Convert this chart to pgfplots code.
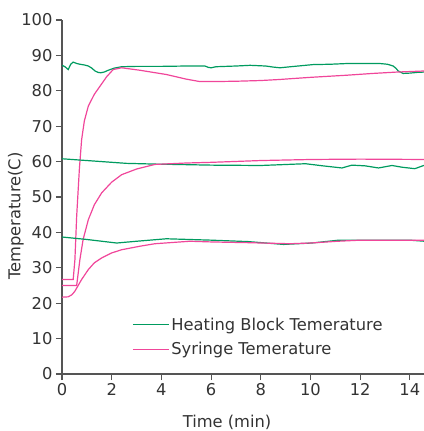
\documentclass[border=0pt]{standalone}
\usepackage{pgfplots}
\pgfplotsset{compat=1.18}
\usepackage{fontspec}
\setmainfont{DejaVu Sans}
\definecolor{gblock}{RGB}{0,155,95}
\definecolor{psyr}{RGB}{240,70,154}
\definecolor{axgray}{RGB}{85,85,85}
\definecolor{txt}{RGB}{51,51,51}
\newcommand\f{\fontsize{16.3bp}{19bp}\selectfont}
\begin{document}
\begin{tikzpicture}
\begin{axis}[
  scale only axis, width=362bp, height=354bp,
  xmin=0, xmax=14.57, ymin=0, ymax=100,
  axis x line=bottom, axis y line=left,
  axis line style={-, axgray, line width=1.4bp},
  tick align=outside, major tick length=6bp,
  tick style={axgray, line width=1.1bp},
  xtick={0,2,...,14}, ytick={0,10,...,100},
  /pgf/number format/assume math mode=true,
  tick label style={font=\f, text=txt},
  xlabel={Time (min)}, ylabel={Temperature(C)},
  label style={font=\f, text=txt},
  xlabel style={at={(axis description cs:0.456,0)}, anchor=center, yshift=-48bp},
  ylabel style={at={(axis description cs:0,0.446)}, anchor=center, yshift=46bp},
  legend style={draw=none, fill=none, font=\f, text=txt,
    at={(axis description cs:0.185,0.038)}, anchor=south west,
    row sep=7bp},
  legend cell align=left,
  legend image code/.code={\draw[#1] (0bp,0bp) -- (36bp,0bp);},
  every axis plot/.append style={line width=1.2bp},
  clip=true,
]
\addplot[gblock] coordinates {(0,87.2)(0.12,86.8)(0.25,86.0)(0.35,87.5)(0.45,88.1)(0.6,87.7)(0.72,87.5)(0.9,87.3)(1.06,87.0)(1.2,86.4)(1.33,85.6)(1.45,85.2)(1.56,85.1)(1.7,85.3)(1.86,85.8)(2.1,86.4)(2.4,86.8)(3,86.9)(4,86.9)(5,87.0)(5.75,87.0)(5.9,86.6)(6.0,86.5)(6.2,86.8)(7,87.0)(7.57,87.2)(8.2,87.0)(8.5,86.7)(8.77,86.5)(9.2,86.8)(10.1,87.4)(10.8,87.5)(11.46,87.7)(12.8,87.7)(13.1,87.5)(13.33,87.0)(13.45,86.3)(13.53,85.6)(13.73,84.9)(14.0,85.0)(14.3,85.2)(14.6,85.3)};
\addlegendentry{Heating Block Temerature}
\addplot[psyr] coordinates {(0,26.7)(0.45,26.7)(0.52,32.3)(0.59,44.5)(0.7,58)(0.79,66.2)(0.9,71.5)(1.06,75.7)(1.3,79)(1.53,81.3)(1.8,84)(2.06,86.0)(2.4,86.5)(3.14,85.8)(4.2,84.6)(5.0,83.3)(5.55,82.6)(6.04,82.6)(7,82.7)(8,82.9)(8.77,83.2)(9.17,83.4)(10,83.8)(11.46,84.4)(12.5,84.9)(13.5,85.3)(14.6,85.6)};
\addlegendentry{Syringe Temerature}
\addplot[gblock, forget plot] coordinates {(0,60.8)(1,60.3)(2,59.8)(2.6,59.5)(3.74,59.3)(6.04,59.0)(8,58.9)(9.8,59.4)(10.5,58.8)(11.27,58.2)(11.67,59.0)(12.2,58.8)(12.74,58.2)(13.28,58.9)(13.7,58.4)(14.2,58.0)(14.6,59.0)};
\addplot[psyr, forget plot] coordinates {(0,25.0)(0.59,25.0)(0.72,32.3)(0.85,38)(1.06,43.6)(1.3,47.8)(1.6,51.2)(2.0,54.2)(2.4,56.3)(3.0,57.9)(3.74,59.2)(5,59.6)(6.04,59.8)(8,60.3)(10.06,60.6)(12,60.7)(14.6,60.6)};
\addplot[gblock, forget plot] coordinates {(0,38.7)(1,38.0)(2.2,37.0)(3,37.5)(4.2,38.2)(6.04,37.8)(7.5,37.4)(8.92,36.6)(10.06,37.0)(11.13,37.8)(13.0,37.8)(14.0,37.8)(14.6,37.5)};
\addplot[psyr, forget plot] coordinates {(0,21.7)(0.25,21.8)(0.4,22.4)(0.52,23.4)(0.65,25)(0.79,26.7)(1.06,29.5)(1.3,31.4)(1.6,32.8)(2.0,34.2)(2.4,35.1)(3.14,36.1)(3.74,36.8)(5.15,37.5)(6.04,37.3)(7.5,37.1)(9.17,36.8)(10,37.0)(11.1,37.5)(12,37.8)(13,37.8)(14.6,37.8)};
\end{axis}
\pgfresetboundingbox
\path[use as bounding box] (-62bp,-57bp) rectangle (362bp,374bp);
\end{tikzpicture}
\end{document}
